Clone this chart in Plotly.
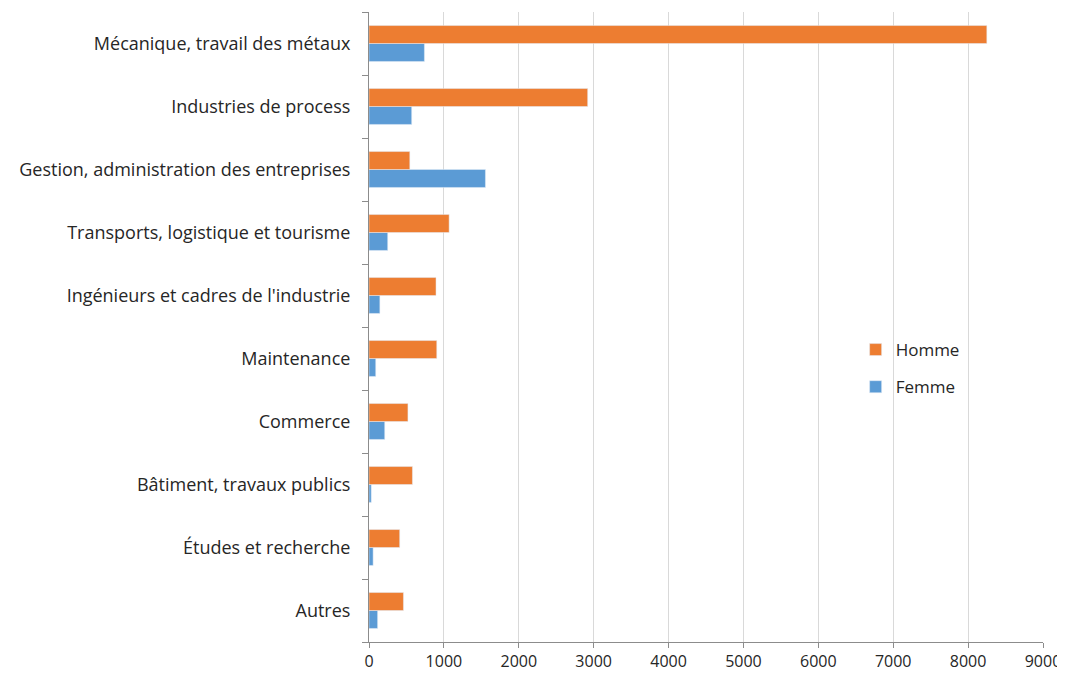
import plotly.graph_objects as go

# categories top -> bottom as in the chart
categories = [
    "Mécanique, travail des métaux",
    "Industries de process",
    "Gestion, administration des entreprises",
    "Transports, logistique et tourisme",
    "Ingénieurs et cadres de l'industrie",
    "Maintenance",
    "Commerce",
    "Bâtiment, travaux publics",
    "Études et recherche",
    "Autres",
]
homme = [8250, 2920, 545, 1070, 895, 905, 520, 580, 410, 460]
femme = [740, 570, 1555, 250, 145, 90, 210, 30, 55, 115]

x_ticks = list(range(0, 9001, 1000))

font = "'Open Sans', 'Noto Sans', sans-serif"

fig = go.Figure()
# Femme first so that it sits below Homme in each group
fig.add_trace(go.Bar(y=categories, x=femme, name="Femme", orientation="h",
                     marker=dict(color="#5B9BD5"), legendgroup="f",
                     legendrank=2))
fig.add_trace(go.Bar(y=categories, x=homme, name="Homme", orientation="h",
                     marker=dict(color="#ED7D31"), legendgroup="h",
                     legendrank=1))

# the page body adds ~8px around the figure, so size it a bit smaller
fig.update_layout(
    width=1057, height=670,
    margin=dict(l=361, r=22, t=4, b=36),
    paper_bgcolor="white", plot_bgcolor="white",
    barmode="group", bargap=0.43, bargroupgap=0,
    font=dict(family=font, size=17, color="#262626"),
    legend=dict(x=0.722, y=0.492, xanchor="left", yanchor="top",
                traceorder="grouped", tracegroupgap=12,
                font=dict(size=17), bgcolor="rgba(0,0,0,0)"),
    xaxis=dict(range=[0, 9000], tickvals=x_ticks, showgrid=True,
               gridcolor="#d9d9d9", gridwidth=1, zeroline=False,
               showline=True, linecolor="#8c8c8c", linewidth=1,
               ticks="outside", ticklen=5, tickcolor="#8c8c8c",
               tickfont=dict(size=16), automargin=False),
    yaxis=dict(categoryorder="array", categoryarray=categories[::-1],
               showline=True, linecolor="#8c8c8c", linewidth=1,
               ticks="outside", ticklen=6, tickcolor="#8c8c8c",
               tickson="boundaries", showgrid=False,
               ticklabelstandoff=14, tickfont=dict(size=18),
               automargin=False),
)

fig.write_html("out.html")
